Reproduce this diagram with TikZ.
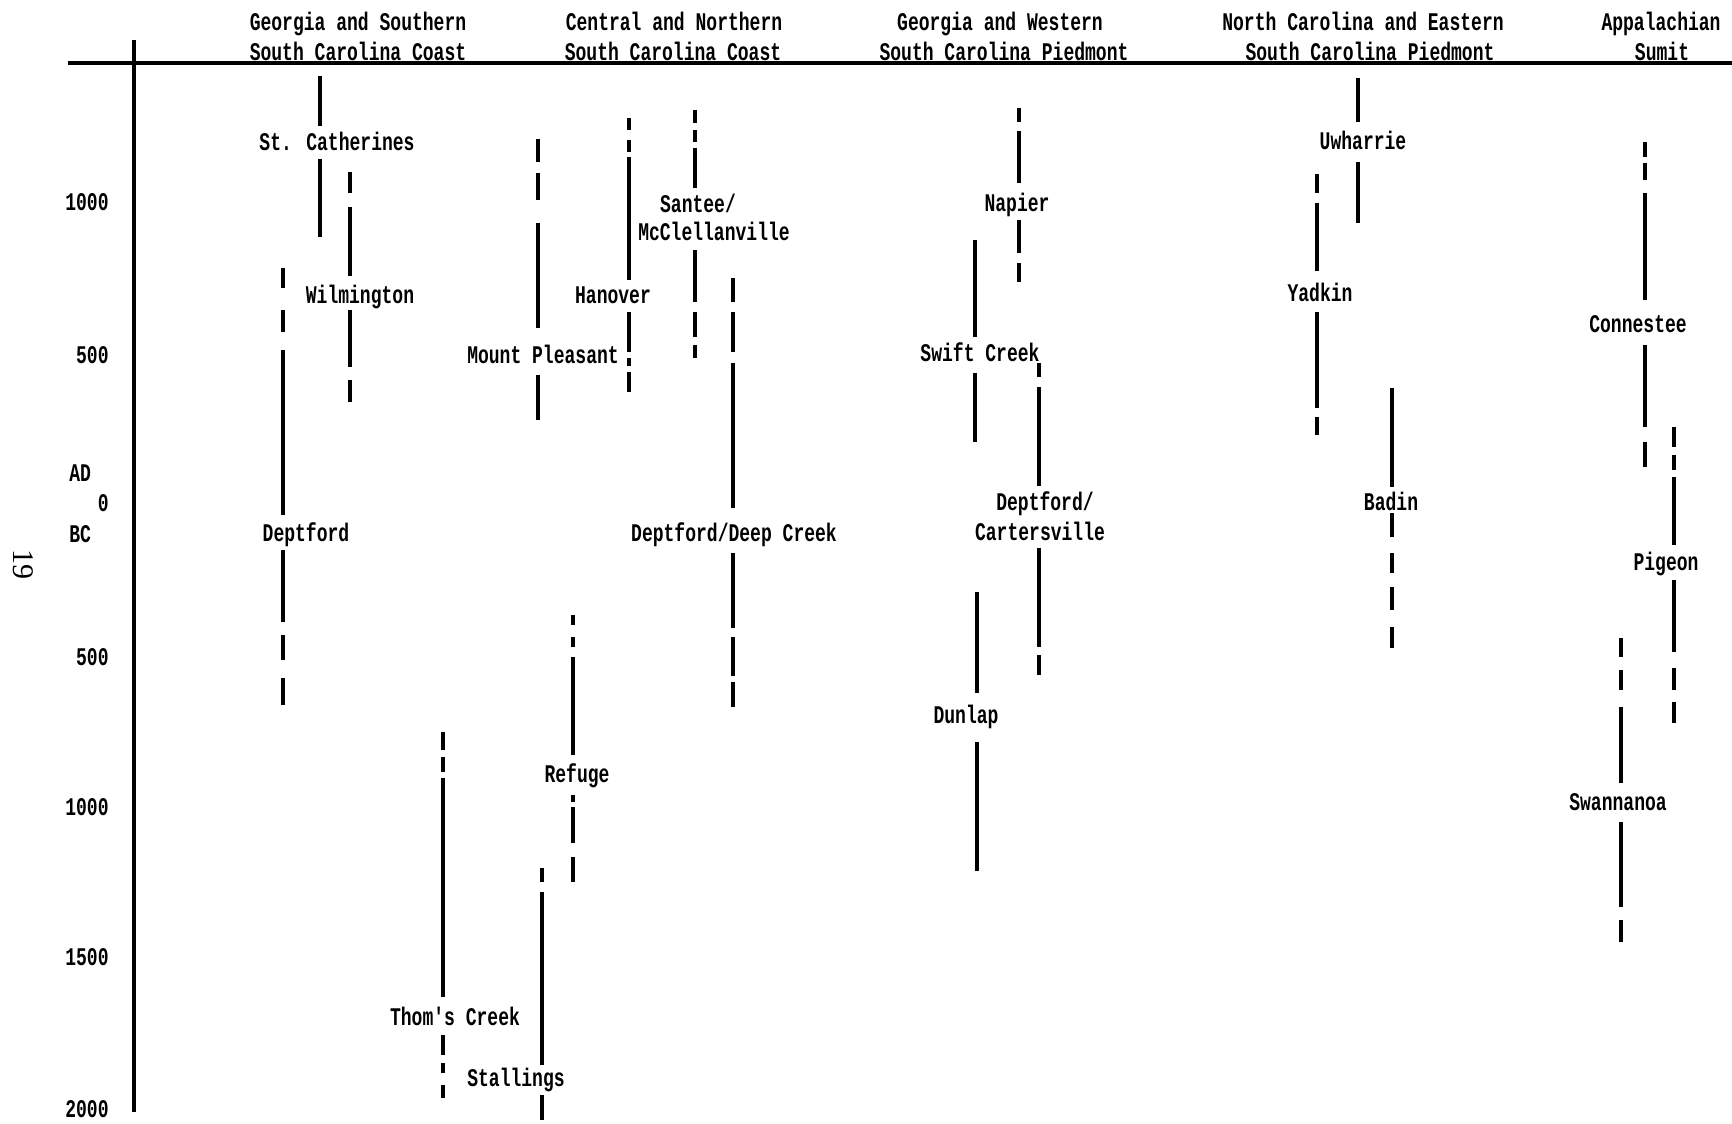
\documentclass[tikz,border=0pt]{standalone}
\usepackage{fontspec}
\newfontfamily\chartfont[FakeStretch=0.71]{Liberation Mono}
\newfontfamily\pagefont{Liberation Serif}
\newcommand\barseg[3]{\draw[bar] (#1,#2) -- (#1,#3);}
\newcommand\chartlabel[4]{\node[lab] (#1) at (#2,#3+8) {#4};}
\begin{document}
\begin{tikzpicture}[x=0.5pt,y=-0.5pt,
  bar/.style={line width=1.9pt},
  axisline/.style={line width=1.8pt},
  lab/.style={font=\chartfont\bfseries\fontsize{12.7}{14}\selectfont, inner sep=0pt, anchor=base},
  ylab/.style={font=\chartfont\bfseries\fontsize{12.7}{14}\selectfont, inner sep=0pt, anchor=base east},
  ylabw/.style={font=\chartfont\bfseries\fontsize{12.7}{14}\selectfont, inner sep=0pt, anchor=base west}]
\useasboundingbox[fill=white] (0,0) rectangle (1732,1123);

% axes
\coordinate (hl) at (68,63); \coordinate (hr) at (1732,63);
\coordinate (vt) at (134,40); \coordinate (vb) at (134,1112);
\draw[axisline] (hl) -- (hr);
\draw[axisline] (vt) -- (vb);

% headings
\chartlabel{h1a}{358}{23}{Georgia and Southern}
\chartlabel{h1b}{358}{53}{South Carolina Coast}
\chartlabel{h2a}{674}{23}{Central and Northern}
\chartlabel{h2b}{673}{53}{South Carolina Coast}
\chartlabel{h3a}{1000}{23}{Georgia and Western}
\chartlabel{h3b}{1004}{53}{South Carolina Piedmont}
\chartlabel{h4a}{1363}{23}{North Carolina and Eastern}
\chartlabel{h4b}{1370}{53}{South Carolina Piedmont}
\chartlabel{h5a}{1661}{23}{Appalachian}
\chartlabel{h5b}{1662}{53}{Sumit}

% y axis labels
\node[ylab] (y1) at (109,211) {1000};
\node[ylab] (y2) at (109,363) {500};
\node[ylabw] (yad) at (69,481) {AD};
\node[ylab] (y0) at (109,511) {0};
\node[ylabw] (ybc) at (69,542) {BC};
\node[ylab] (y3) at (109,665) {500};
\node[ylab] (y4) at (109,815) {1000};
\node[ylab] (y5) at (109,965) {1500};
\node[ylab] (y6) at (109,1117) {2000};

% page number
\node[font=\pagefont\fontsize{15}{15}\selectfont, rotate=-90, inner sep=0pt] (pg) at (23,564) {19};

% St. Catherines
\barseg{320}{76}{126}
\chartlabel{stc}{337}{143}{St. Catherines}
\barseg{320}{159}{237}
% Wilmington
\barseg{350}{172}{193}
\barseg{350}{207}{276}
\chartlabel{wil}{360}{295}{Wilmington}
\barseg{350}{310}{367}
\barseg{350}{380}{402}
% Deptford
\barseg{283}{268}{288}
\barseg{283}{310}{332}
\barseg{283}{350}{515}
\chartlabel{dep}{306}{533}{Deptford}
\barseg{283}{550}{622}
\barseg{283}{635}{660}
\barseg{283}{678}{705}
% Mount Pleasant
\barseg{538}{139}{162}
\barseg{538}{173}{200}
\barseg{538}{223}{328}
\chartlabel{mtp}{543}{355}{Mount Pleasant}
\barseg{538}{375}{420}
% Hanover
\barseg{629}{118}{130}
\barseg{629}{140}{152}
\barseg{629}{157}{280}
\chartlabel{han}{613}{295}{Hanover}
\barseg{629}{312}{352}
\barseg{629}{358}{366}
\barseg{629}{372}{392}
% Santee / McClellanville
\barseg{695}{110}{123}
\barseg{695}{130}{142}
\barseg{695}{148}{188}
\chartlabel{san}{698}{205}{Santee/}
\chartlabel{mcc}{714}{233}{McClellanville}
\barseg{695}{250}{302}
\barseg{695}{312}{337}
\barseg{695}{345}{358}
% Deptford / Deep Creek
\barseg{733}{278}{302}
\barseg{733}{312}{352}
\barseg{733}{363}{508}
\chartlabel{ddc}{734}{533}{Deptford/Deep Creek}
\barseg{733}{553}{628}
\barseg{733}{637}{676}
\barseg{733}{682}{707}
% Refuge
\barseg{573}{615}{625}
\barseg{573}{637}{647}
\barseg{573}{657}{755}
\chartlabel{ref}{577}{774}{Refuge}
\barseg{573}{795}{802}
\barseg{573}{807}{843}
\barseg{573}{857}{882}
% Thom's Creek
\barseg{443}{732}{750}
\barseg{443}{757}{772}
\barseg{443}{778}{997}
\chartlabel{thc}{455}{1017}{Thom's Creek}
\barseg{443}{1035}{1055}
\barseg{443}{1063}{1073}
\barseg{443}{1085}{1098}
% Stallings
\barseg{542}{868}{882}
\barseg{542}{892}{1065}
\chartlabel{sta}{516}{1078}{Stallings}
\barseg{542}{1095}{1120}
% Napier
\barseg{1019}{108}{122}
\barseg{1019}{131}{183}
\chartlabel{nap}{1017}{204}{Napier}
\barseg{1019}{220}{253}
\barseg{1019}{263}{282}
% Swift Creek
\barseg{975}{240}{337}
\chartlabel{swc}{980}{353}{Swift Creek}
\barseg{975}{373}{442}
% Deptford / Cartersville
\barseg{1039}{363}{377}
\barseg{1039}{387}{486}
\chartlabel{dpc}{1045}{502}{Deptford/}
\chartlabel{car}{1040}{532}{Cartersville}
\barseg{1039}{548}{647}
\barseg{1039}{655}{675}
% Dunlap
\barseg{977}{592}{693}
\chartlabel{dun}{966}{715}{Dunlap}
\barseg{977}{742}{871}
% Uwharrie
\barseg{1358}{78}{122}
\chartlabel{uwh}{1363}{142}{Uwharrie}
\barseg{1358}{162}{223}
% Yadkin
\barseg{1317}{174}{193}
\barseg{1317}{203}{271}
\chartlabel{yad}{1320}{293}{Yadkin}
\barseg{1317}{312}{408}
\barseg{1317}{417}{435}
% Badin
\barseg{1392}{388}{487}
\chartlabel{bad}{1391}{502}{Badin}
\barseg{1392}{513}{537}
\barseg{1392}{553}{573}
\barseg{1392}{587}{610}
\barseg{1392}{627}{648}
% Connestee
\barseg{1645}{142}{157}
\barseg{1645}{163}{180}
\barseg{1645}{193}{300}
\chartlabel{con}{1638}{324}{Connestee}
\barseg{1645}{345}{427}
\barseg{1645}{442}{467}
% Pigeon
\barseg{1674}{427}{447}
\barseg{1674}{455}{470}
\barseg{1674}{477}{545}
\chartlabel{pig}{1666}{562}{Pigeon}
\barseg{1674}{580}{652}
\barseg{1674}{668}{690}
\barseg{1674}{702}{723}
% Swannanoa
\barseg{1621}{638}{657}
\barseg{1621}{670}{690}
\barseg{1621}{707}{783}
\chartlabel{swa}{1618}{802}{Swannanoa}
\barseg{1621}{822}{907}
\barseg{1621}{920}{942}
\end{tikzpicture}
\end{document}
